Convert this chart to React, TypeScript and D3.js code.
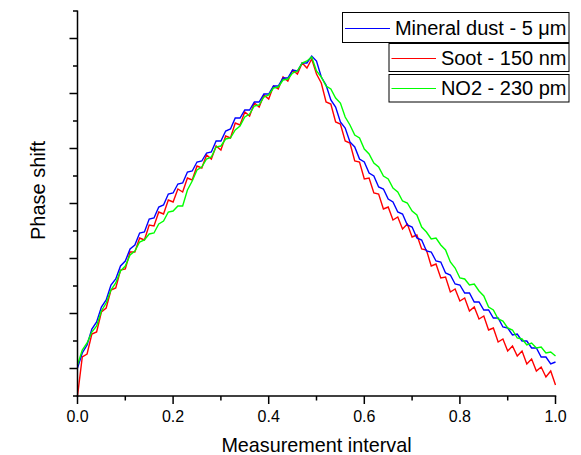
import React from "react";
import * as d3 from "d3";

// Measurement interval grid step (101 samples from 0 to 1)
const STEP = 0.01;

const mineralDust = [
  2.8, 4.3, 5.1, 6.7, 7.4, 8.9, 9.6, 11.1, 11.7, 13.0, 13.5, 14.7, 15.1, 16.3, 16.4, 17.7, 17.8, 18.9, 19.1, 20.2,
  20.3, 21.2, 21.3, 22.4, 22.5, 23.4, 23.5, 24.3, 24.4, 25.5, 25.5, 26.5, 26.7, 27.8, 27.8, 28.6, 28.6, 29.4, 29.4, 30.2,
  30.2, 31.0, 31.0, 31.8, 31.8, 32.6, 32.5, 33.3, 33.3, 34.0,
  33.5, 31.9, 31.1, 29.6, 28.9, 27.4, 26.8, 25.4, 24.9, 23.7, 23.4, 22.3, 22.0, 20.9, 20.7, 19.7, 19.4, 18.4, 18.2, 17.1,
  16.9, 15.8, 15.6, 14.5, 14.4, 13.5, 13.4, 12.3, 12.1, 11.2, 11.1, 10.3, 10.3, 9.4, 9.4, 8.6, 8.6, 7.8, 7.8, 6.9,
  6.8, 6.1, 6.2, 5.5, 5.5, 4.8, 4.8, 3.9, 3.9, 3.2, 3.4,
];

const soot = [
  0.0, 3.9, 4.2, 6.2, 6.4, 8.4, 8.8, 10.6, 10.8, 12.6, 12.7, 14.4, 14.4, 15.8, 15.6, 17.1, 17.0, 18.4, 18.2, 19.6,
  19.4, 20.7, 20.4, 21.8, 21.6, 23.0, 22.8, 24.1, 23.7, 25.0, 24.6, 26.0, 25.8, 27.3, 27.1, 28.4, 28.0, 29.3, 28.9, 30.1,
  29.7, 31.0, 30.7, 31.9, 31.5, 32.6, 32.2, 33.3, 32.8, 33.7,
  32.2, 31.3, 29.4, 29.2, 27.4, 27.2, 25.5, 25.3, 23.5, 23.4, 21.7, 21.8, 20.3, 20.2, 18.7, 18.9, 17.6, 17.9, 16.7, 17.2,
  15.9, 16.1, 14.7, 14.6, 13.0, 13.2, 11.8, 11.9, 10.4, 10.7, 9.5, 9.8, 8.5, 8.9, 7.7, 8.0, 6.6, 6.8, 5.4, 5.7,
  4.5, 5.0, 4.0, 4.5, 3.2, 3.7, 2.5, 2.9, 1.9, 2.5, 1.1,
];

const no2 = [
  3.1, 4.6, 5.3, 6.4, 7.0, 8.5, 9.3, 10.6, 11.3, 12.5, 13.0, 14.1, 14.5, 15.4, 15.6, 16.2, 16.3, 17.2, 17.5, 18.4,
  18.5, 19.0, 19.0, 20.6, 21.5, 22.6, 22.9, 23.7, 23.9, 24.9, 25.0, 25.7, 25.8, 26.6, 27.0, 27.9, 28.2, 29.0, 29.1, 29.9,
  30.1, 30.8, 30.9, 31.6, 31.7, 32.3, 32.5, 33.3, 33.5, 33.9,
  32.5, 31.9, 31.0, 30.7, 29.8, 29.3, 27.9, 27.1, 26.1, 25.8, 24.7, 24.2, 23.3, 22.9, 22.0, 21.7, 20.8, 20.4, 19.5, 19.3,
  18.5, 18.1, 16.9, 16.4, 15.7, 15.8, 15.1, 14.6, 13.4, 12.8, 11.8, 11.7, 11.1, 11.2, 10.5, 10.0, 8.9, 8.6, 7.7, 7.5,
  6.8, 6.6, 5.8, 5.7, 5.1, 5.3, 4.8, 4.9, 4.3, 4.4, 4.0,
];

const seriesNames = ["Mineral dust - 5 \u03bcm", "Soot - 150 nm", "NO2 - 230 pm"];
const seriesColors = ["#0000ff", "#ff0000", "#00ff00"];
const xTickLabels = ["0.0", "0.2", "0.4", "0.6", "0.8", "1.0"];
const xTitle = "Measurement interval";
const yTitle = "Phase shift";

const W = 581;
const H = 455;
const margin = { left: 77.5, right: 25.5, top: 11, bottom: 59 };
const FONT = "'Liberation Sans', Arial, Helvetica, sans-serif";

export default function App() {
  const x = d3.scaleLinear().domain([0, 1]).range([margin.left, W - margin.right]);
  const y = d3.scaleLinear().domain([0, 38.5]).range([H - margin.bottom, margin.top]);
  const y0 = H - margin.bottom;

  const toPts = (vals: number[]) => vals.map((v, i) => [i * STEP, v] as [number, number]);
  const line = d3
    .line<[number, number]>()
    .x((d) => x(d[0]))
    .y((d) => y(d[1]));

  const data = [mineralDust, soot, no2];
  const drawOrder = [1, 0, 2];

  const xMajor = d3.range(0, 6).map((i) => i * 0.2);
  const xMinor = d3.range(0, 5).map((i) => i * 0.2 + 0.1);
  const yMajor = d3.range(0, 7).map((i) => 2.75 + i * 5.5);
  const yMinor = d3.range(0, 8).map((i) => i * 5.5);

  const legend = [
    { box: [342.5, 12.5, 226.5, 30], line: [345, 390, 28.5], textY: 35 },
    { box: [389, 43.5, 180, 28], line: [391.5, 436, 58.5], textY: 65 },
    { box: [389, 74.5, 180, 27.5], line: [391.5, 436, 88.5], textY: 94.5 },
  ];

  return (
    <svg
      width={W}
      height={H}
      style={{ position: "absolute", left: 0, top: 0, background: "#fff" }}
      fontFamily={FONT}
    >
      <rect x={0} y={0} width={W} height={H} fill="#fff" />
      {drawOrder.map((k) => (
        <path
          key={k}
          d={line(toPts(data[k])) || ""}
          fill="none"
          stroke={seriesColors[k]}
          strokeWidth={1.4}
          strokeLinejoin="miter"
        />
      ))}

      {/* axes */}
      <line x1={x(0)} x2={x(0)} y1={y(38.5) - 0.5} y2={y0 + 0.75} stroke="#000" strokeWidth={1.5} />
      <line x1={x(0) - 0.75} x2={x(1) + 0.75} y1={y0} y2={y0} stroke="#000" strokeWidth={1.5} />

      {xMajor.map((t, i) => (
        <g key={"xm" + i}>
          <line x1={x(t)} x2={x(t)} y1={y0} y2={y0 + 8} stroke="#000" strokeWidth={1.5} />
          <text x={x(t)} y={422} fontSize={16} textAnchor="middle" fill="#000">
            {xTickLabels[i]}
          </text>
        </g>
      ))}
      {xMinor.map((t, i) => (
        <line key={"xn" + i} x1={x(t)} x2={x(t)} y1={y0} y2={y0 + 4.5} stroke="#000" strokeWidth={1.5} />
      ))}
      {yMajor.map((t, i) => (
        <line key={"ym" + i} x1={x(0) - 8} x2={x(0)} y1={y(t)} y2={y(t)} stroke="#000" strokeWidth={1.5} />
      ))}
      {yMinor.map((t, i) => (
        <line key={"yn" + i} x1={x(0) - 4.5} x2={x(0)} y1={y(t)} y2={y(t)} stroke="#000" strokeWidth={1.5} />
      ))}

      <text x={(x(0) + x(1)) / 2} y={451.5} fontSize={19.8} textAnchor="middle" fill="#000">
        {xTitle}
      </text>
      <text
        transform="translate(45,190.5) rotate(-90)"
        fontSize={20}
        textAnchor="middle"
        fill="#000"
      >
        {yTitle}
      </text>

      {legend.map((l, i) => (
        <g key={"lg" + i}>
          <rect x={l.box[0]} y={l.box[1]} width={l.box[2]} height={l.box[3]} fill="#fff" stroke="#000" strokeWidth={1} />
          <line x1={l.line[0]} x2={l.line[1]} y1={l.line[2]} y2={l.line[2]} stroke={seriesColors[i]} strokeWidth={1.1} />
          <text x={566.5} y={l.textY} fontSize={20} textAnchor="end" fill="#000">
            {seriesNames[i]}
          </text>
        </g>
      ))}
    </svg>
  );
}
